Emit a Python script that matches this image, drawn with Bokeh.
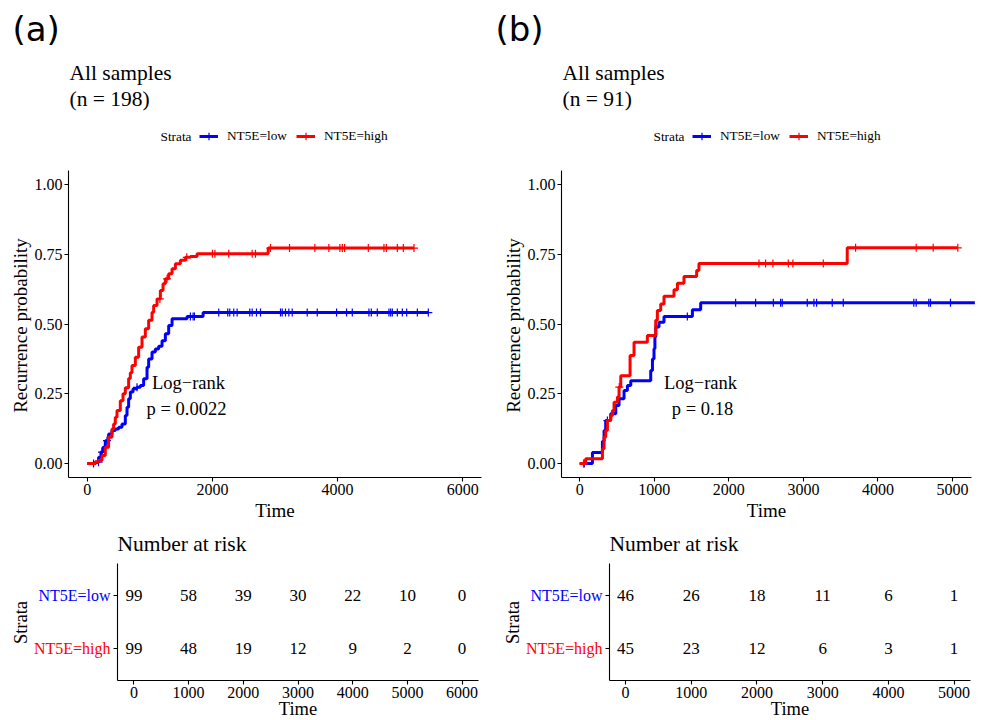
import numpy as np
from bokeh.plotting import figure
from bokeh.models import (Range1d, FixedTicker, Label, Legend, LegendItem, LinearAxis,
                          NumeralTickFormatter)
from bokeh.core.properties import value
from bokeh.embed import file_html
from bokeh.resources import INLINE

SERIF = "Liberation Serif"
BLUE = "#0000FF"
RED = "#FF0000"

strata = ["NT5E=low", "NT5E=high"]

# ---------------- Panel (a): all samples, n = 198 ----------------
a_low_t = [0, 128, 181, 219, 251, 288, 341, 395, 448, 501, 555, 608, 635, 661, 688, 731, 795,
           848, 901, 955, 981, 1035, 1088, 1141, 1195, 1248, 1301, 1355, 1595, 1851]
a_low_y = [0.0, 0.005, 0.023, 0.041, 0.058, 0.082, 0.106, 0.118, 0.124, 0.130, 0.142, 0.172, 0.202,
           0.232, 0.256, 0.268, 0.273, 0.280, 0.304, 0.345, 0.375, 0.400, 0.410, 0.420, 0.440,
           0.465, 0.495, 0.519, 0.527, 0.541]
a_low_end = 5450
a_low_cens = [100, 180, 235, 315, 795, 1648, 1691, 1712, 2101, 2245, 2277, 2341, 2395, 2597, 2635,
              2704, 2768, 3088, 3115, 3168, 3221, 3275, 3515, 3675, 3984, 4144, 4235, 4501, 4539,
              4635, 4821, 4848, 4875, 4955, 5035, 5104, 5275, 5450]

a_high_t = [0, 128, 181, 235, 288, 341, 395, 421, 448, 475, 528, 571, 608, 661, 688, 715, 768, 821,
            875, 928, 981, 1035, 1061, 1115, 1168, 1211, 1248, 1301, 1355, 1408, 1488, 1568, 1648,
            1755, 2891]
a_high_y = [0.0, 0.006, 0.011, 0.029, 0.058, 0.094, 0.124, 0.142, 0.166, 0.190, 0.225, 0.250, 0.272,
            0.305, 0.325, 0.351, 0.381, 0.417, 0.453, 0.483, 0.513, 0.542, 0.566, 0.590, 0.620,
            0.644, 0.662, 0.680, 0.698, 0.716, 0.728, 0.739, 0.742, 0.752, 0.772]
a_high_end = 5221
a_high_cens = [1160, 1275, 1590, 2000, 2040, 2261, 2635, 2688, 2928, 3232, 3637, 3861, 4037, 4075,
               4112, 4491, 4741, 4779, 4955, 5051, 5221]

a_risk_t = [0, 1000, 2000, 3000, 4000, 5000, 6000]
a_risk_low = [99, 58, 39, 30, 22, 10, 0]
a_risk_high = [99, 48, 19, 12, 9, 2, 0]
a_xticks_main = [0, 2000, 4000, 6000]

# ---------------- Panel (b): all samples, n = 91 ----------------
b_low_t = [0, 170, 304, 326, 348, 415, 483, 527, 594, 639, 684, 952, 975, 996, 1008, 1019, 1063,
           1130, 1511, 1622]
b_low_y = [0.0, 0.040, 0.080, 0.118, 0.154, 0.178, 0.208, 0.232, 0.262, 0.280, 0.297, 0.333, 0.375,
           0.411, 0.453, 0.489, 0.506, 0.527, 0.551, 0.576]
b_low_end = 5300
b_low_cens = [60, 371, 1443, 2091, 2359, 2597, 2694, 2716, 3052, 3141, 3177, 3387, 3535, 4481, 4513,
              4682, 4705, 4973]

b_high_t = [0, 80, 304, 326, 348, 371, 415, 438, 460, 505, 527, 550, 675, 728, 907, 1019, 1041, 1086,
            1130, 1264, 1310, 1398, 1568, 1599, 3588]
b_high_y = [0.0, 0.017, 0.053, 0.094, 0.118, 0.154, 0.172, 0.190, 0.220, 0.238, 0.274, 0.315, 0.387,
            0.435, 0.459, 0.513, 0.548, 0.572, 0.599, 0.623, 0.646, 0.670, 0.692, 0.717, 0.773]
b_high_end = 5071
b_high_cens = [50, 530, 2404, 2493, 2591, 2797, 2859, 3267, 3700, 4513, 4741, 5071]

b_risk_t = [0, 1000, 2000, 3000, 4000, 5000]
b_risk_low = [46, 26, 18, 11, 6, 1]
b_risk_high = [45, 23, 12, 6, 3, 1]
b_xticks_main = [0, 1000, 2000, 3000, 4000, 5000]

y_ticks = [0, 0.25, 0.5, 0.75, 1.0]

# ---------------- canvas geometry (pixels) ----------------
CW, CH = 981, 720
MAIN_Y = (-0.05, 1.05)
TAB_Y = (0.4, 2.6)
# (data range, pixel start, pixel end)
GA_X = ((-300, 6300), 68, 481)
GB_X = ((-245, 5255), 561, 971)
TA_X = ((-300, 6300), 117, 478)
TB_X = ((-245, 5250), 609, 970)
MAIN_YPX = (477, 170)   # pixel of bottom, top
TAB_YPX = (680, 563)


def full_x(spec):
    (x0, x1), L, R = spec
    u = (x1 - x0) / (R - L)
    return Range1d(x0 - L * u, x1 + (CW - R) * u)


def full_y(rng, px):
    y0, y1 = rng
    B, T = px
    u = (y1 - y0) / (B - T)
    return Range1d(y0 - (CH - B) * u, y1 + T * u)


def step_at(ts, ys, t):
    i = int(np.searchsorted(np.asarray(ts), t, side="right")) - 1
    return ys[max(i, 0)]


p = figure(width=CW, height=CH, x_range=full_x(GA_X), y_range=full_y(MAIN_Y, MAIN_YPX),
           x_axis_location=None, y_axis_location=None, min_border=0,
           output_backend="svg", toolbar_location=None)
p.extra_x_ranges = {"xb": full_x(GB_X), "xta": full_x(TA_X), "xtb": full_x(TB_X)}
p.extra_y_ranges = {"yt": full_y(TAB_Y, TAB_YPX)}
p.outline_line_color = None
p.background_fill_color = "white"
p.border_fill_color = "white"
p.xgrid.visible = False
p.ygrid.visible = False


def style(ax, size="16px"):
    ax.axis_line_color = "black"
    ax.axis_line_width = 1.1
    ax.major_tick_line_color = "black"
    ax.major_tick_line_width = 1.1
    ax.major_tick_in = 0
    ax.major_tick_out = 4
    ax.minor_tick_line_color = None
    ax.major_label_text_font = SERIF
    ax.major_label_text_font_size = size
    ax.major_label_text_color = "black"
    ax.major_label_standoff = 2


def label(text, sx, sy, size, font=SERIF, align="left", angle=0.0, color="black"):
    p.add_layout(Label(x=sx, y=CH - sy, x_units="screen", y_units="screen", text=text,
                       text_font=font, text_font_size=size, text_align=align,
                       text_baseline="middle", angle=angle, text_color=color))


def main_panel(xname, xspec, tag, tag_sx, n_text, curves, xticks, pval, logrank_sx, p_sx):
    (x0, x1), L, R = xspec
    xa = LinearAxis(x_range_name=xname, y_range_name="default", fixed_location=MAIN_Y[0],
                    bounds=(x0, x1), ticker=FixedTicker(ticks=xticks))
    style(xa)
    p.add_layout(xa, "below")
    ya = LinearAxis(x_range_name=xname, y_range_name="default", fixed_location=x0,
                    bounds=MAIN_Y, ticker=FixedTicker(ticks=y_ticks),
                    formatter=NumeralTickFormatter(format="0.00"))
    style(ya)
    p.add_layout(ya, "left")

    items = []
    for (ts, ys, end, cens, col), name in zip(curves, strata):
        xs = list(ts) + [end]
        yv = list(ys) + [ys[-1]]
        ln = p.step(xs, yv, mode="after", line_color=col, line_width=3,
                    x_range_name=xname)
        cy = [step_at(ts, ys, c) for c in cens]
        sc = p.scatter(cens, cy, marker="cross", size=8, line_color=col, line_width=1.2,
                       x_range_name=xname)
        items.append(LegendItem(label=name, renderers=[ln, sc]))

    label(tag, tag_sx, 28, "34px", font="DejaVu Sans")
    label("All samples", L + 1, 72, "21.5px")
    label(n_text, L + 1, 98, "21.5px")
    label("Strata", L + 92, 136, "13.3px")
    label("Recurrence probability", L - 48, 325, "19px", align="center", angle=np.pi / 2)
    label("Time", (L + R) / 2, 510, "19px", align="center")
    label("Log\u2212rank", logrank_sx, 382, "18.5px", align="center")
    label(pval, p_sx, 408, "18.5px", align="center")

    legend = Legend(items=items, orientation="horizontal", location=(L + 131, CH - 146),
                    glyph_width=19, glyph_height=20, label_standoff=9, spacing=9,
                    padding=0, margin=0, label_text_font=SERIF, label_text_font_size="13.3px",
                    label_text_color="black",
                    label_height=20, background_fill_alpha=0, border_line_alpha=0)
    p.add_layout(legend, "center")


def table_panel(xname, xspec, risk_t, risk_low, risk_high):
    (x0, x1), L, R = xspec
    xa = LinearAxis(x_range_name=xname, y_range_name="yt", fixed_location=TAB_Y[0],
                    bounds=(x0, x1), ticker=FixedTicker(ticks=risk_t))
    style(xa)
    p.add_layout(xa, "below")
    for k, (tick, name, col) in enumerate(((2, strata[0], BLUE), (1, strata[1], RED))):
        ya = LinearAxis(x_range_name=xname, y_range_name="yt", fixed_location=x0,
                        bounds=TAB_Y, ticker=FixedTicker(ticks=[tick]),
                        major_label_overrides={tick: name})
        style(ya)
        ya.major_label_text_color = col
        ya.major_label_standoff = 3
        if k == 1:
            ya.axis_line_color = None
        p.add_layout(ya, "left")

    for row_y, vals in ((2, risk_low), (1, risk_high)):
        p.text(x=risk_t, y=[row_y] * len(risk_t), text=[str(v) for v in vals],
               text_font=value(SERIF), text_font_size="17px", text_align="center",
               text_baseline="middle", text_color="black",
               x_range_name=xname, y_range_name="yt")

    label("Number at risk", L, 543, "21.5px")
    label("Strata", L - 97, 622, "18.5px", align="center", angle=np.pi / 2)
    label("Time", (L + R) / 2, 708, "18.5px", align="center")


main_panel("default", GA_X, "(a)", 12, "(n = 198)",
           [(a_low_t, a_low_y, a_low_end, a_low_cens, BLUE),
            (a_high_t, a_high_y, a_high_end, a_high_cens, RED)],
           a_xticks_main, "p = 0.0022", 188, 186)
main_panel("xb", GB_X, "(b)", 495, "(n = 91)",
           [(b_low_t, b_low_y, b_low_end, b_low_cens, BLUE),
            (b_high_t, b_high_y, b_high_end, b_high_cens, RED)],
           b_xticks_main, "p = 0.18", 700, 702)
table_panel("xta", TA_X, a_risk_t, a_risk_low, a_risk_high)
table_panel("xtb", TB_X, b_risk_t, b_risk_low, b_risk_high)

open("out.html", "w").write(file_html(p, INLINE))
